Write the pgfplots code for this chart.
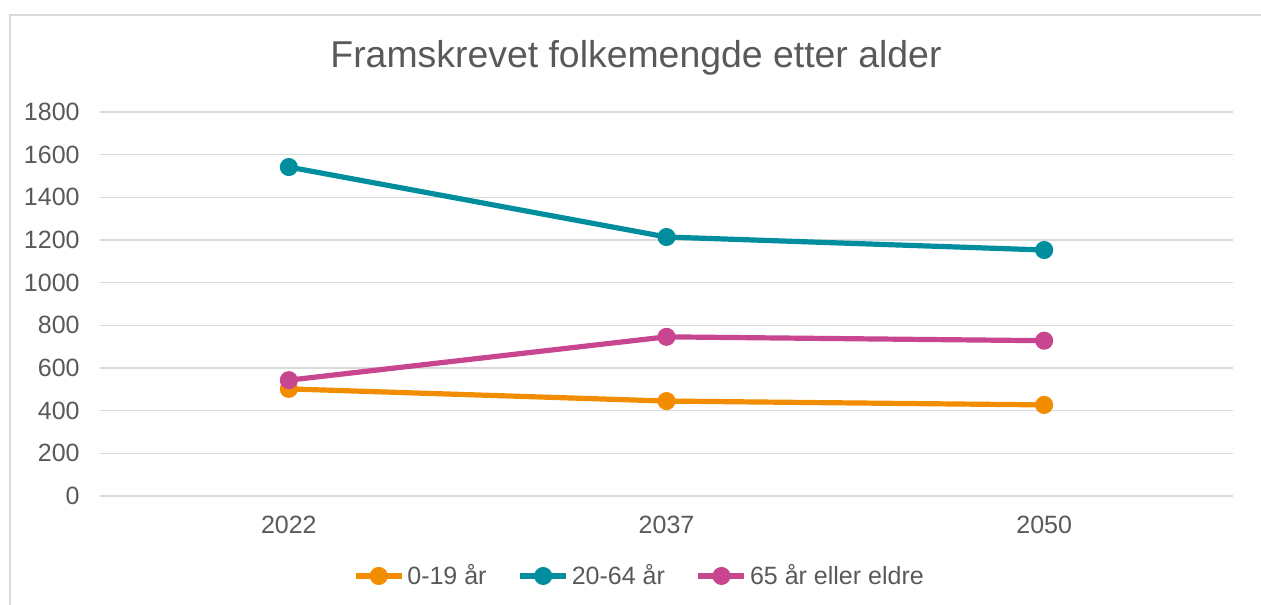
\documentclass[border=0pt]{standalone}
\usepackage{pgfplots}
\pgfplotsset{compat=1.18}
\usepackage{fontspec}
\setmainfont{Liberation Sans}
\definecolor{txt}{HTML}{595959}
\definecolor{grd}{HTML}{D9D9D9}
\definecolor{cOrange}{HTML}{F28C00}
\definecolor{cTeal}{HTML}{008D9E}
\definecolor{cPink}{HTML}{C8468F}
\begin{document}
\begin{tikzpicture}
\useasboundingbox (0pt,0pt) rectangle (630.5pt,302pt);
\draw[grd, line width=1pt] (5pt,-10pt) rectangle (650pt,294.5pt);
\node[txt, font=\fontsize{18.7}{22}\selectfont] at (318pt,273pt) {Framskrevet folkemengde etter alder};
\begin{axis}[
    at={(50pt,54pt)}, anchor=south west,
    scale only axis, width=566.5pt, height=192pt,
    xmin=-0.5, xmax=2.5, ymin=0, ymax=1800,
    xtick={0,1,2}, xticklabels={2022,2037,2050},
    ytick={0,200,...,1800},
    axis line style={draw=none}, tick style={draw=none},
    ymajorgrids, grid style={grd, line width=0.75pt},
    font=\fontsize{12.5}{15}\selectfont,
    ticklabel style={txt, inner sep=0pt},
    yticklabel style={anchor=east, xshift=-10pt},
    xticklabel style={anchor=north, yshift=-10pt},
    /pgf/number format/assume math mode=true,
    /pgf/number format/1000 sep={},
    clip=false,
    every axis plot/.append style={line width=2.6pt, mark=*, mark size=3.2pt},
    legend image code/.code={\draw[#1,mark repeat=2,mark phase=2] plot coordinates {(0pt,0pt) (11.5pt,0pt) (23pt,0pt)};},
    legend columns=3,
    legend style={at={(0.4766,-0.2083)}, anchor=center, draw=none, fill=none,
        font=\fontsize{12.5}{15}\selectfont, text=txt,
        nodes={inner sep=1.5pt},
        /tikz/every even column/.append style={column sep=14pt}},
]
\addplot[cOrange, mark options={fill=cOrange}] coordinates {(0,502) (1,445) (2,427)};
\addplot[cTeal, mark options={fill=cTeal}] coordinates {(0,1542) (1,1214) (2,1153)};
\addplot[cPink, mark options={fill=cPink}] coordinates {(0,543) (1,746) (2,728)};
\legend{0-19 år, 20-64 år, 65 år eller eldre}
\end{axis}
\end{tikzpicture}
\end{document}
